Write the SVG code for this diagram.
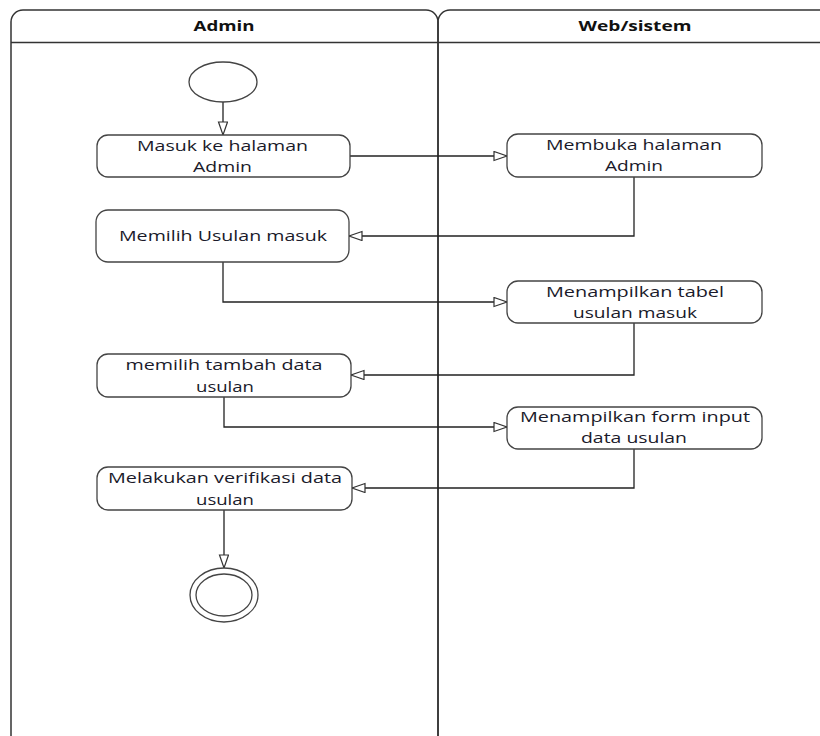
<svg xmlns="http://www.w3.org/2000/svg" width="820" height="736" viewBox="0 0 820 736">
<style>
.lane{fill:none;stroke:#333;stroke-width:1.5}
.box{fill:#fff;stroke:#444;stroke-width:1.3}
.t{font-family:"Open Sans","Noto Sans",sans-serif;font-size:15px;fill:#1a1a2a;text-anchor:middle}
.h{font-family:"Open Sans","Noto Sans",sans-serif;font-size:15px;font-weight:bold;fill:#111;text-anchor:middle}
.c{fill:none;stroke:#222;stroke-width:1.3}
</style>
<defs>
<marker id="arr" markerUnits="userSpaceOnUse" markerWidth="16" markerHeight="12" refX="14" refY="5" orient="auto">
<path d="M1,0.5 L14,5 L1,9.5 z" fill="#fff" stroke="#333" stroke-width="1.2"/>
</marker>
</defs>
<rect width="820" height="736" fill="#fff"/>
<g id="lane-admin">
<rect class="lane" x="11" y="10" width="427" height="740" rx="12"/>
<text class="h" x="224" y="31" textLength="61" lengthAdjust="spacingAndGlyphs">Admin</text>
</g>
<g id="lane-web">
<rect class="lane" x="438" y="10" width="400" height="740" rx="12"/>
<text class="h" x="635" y="31" textLength="113" lengthAdjust="spacingAndGlyphs">Web/sistem</text>
</g>
<line class="lane" x1="11" y1="42.5" x2="820" y2="42.5"/>
<g id="connectors">
<path class="c" d="M223,102 V135" marker-end="url(#arr)"/>
<path class="c" d="M350,156 H507" marker-end="url(#arr)"/>
<path class="c" d="M634,177 V236 H349" marker-end="url(#arr)"/>
<path class="c" d="M223,262 V302 H507" marker-end="url(#arr)"/>
<path class="c" d="M634,323 V375 H351" marker-end="url(#arr)"/>
<path class="c" d="M224,397 V427 H507" marker-end="url(#arr)"/>
<path class="c" d="M634,449 V488 H352" marker-end="url(#arr)"/>
<path class="c" d="M224,510 V568" marker-end="url(#arr)"/>
</g>
<g id="start">
<ellipse class="box" cx="223" cy="82" rx="34" ry="20"/>
</g>
<g id="n1">
<rect class="box" x="97" y="135" width="253" height="42" rx="11"/>
<text class="t" x="222.5" y="150.5" textLength="171" lengthAdjust="spacingAndGlyphs">Masuk ke halaman</text>
<text class="t" x="222.5" y="171.5" textLength="59" lengthAdjust="spacingAndGlyphs">Admin</text>
</g>
<g id="n2">
<rect class="box" x="507" y="134" width="255" height="43" rx="11"/>
<text class="t" x="634" y="150" textLength="176" lengthAdjust="spacingAndGlyphs">Membuka halaman</text>
<text class="t" x="634" y="171" textLength="58" lengthAdjust="spacingAndGlyphs">Admin</text>
</g>
<g id="n3">
<rect class="box" x="96" y="210" width="253" height="52" rx="12"/>
<text class="t" x="223" y="241" textLength="208" lengthAdjust="spacingAndGlyphs">Memilih Usulan masuk</text>
</g>
<g id="n4">
<rect class="box" x="507" y="281" width="255" height="42" rx="11"/>
<text class="t" x="635" y="296.5" textLength="178" lengthAdjust="spacingAndGlyphs">Menampilkan tabel</text>
<text class="t" x="635" y="317.5" textLength="124" lengthAdjust="spacingAndGlyphs">usulan masuk</text>
</g>
<g id="n5">
<rect class="box" x="97" y="354" width="254" height="43" rx="11"/>
<text class="t" x="224" y="369.5" textLength="197" lengthAdjust="spacingAndGlyphs">memilih tambah data</text>
<text class="t" x="225" y="391.5" textLength="58" lengthAdjust="spacingAndGlyphs">usulan</text>
</g>
<g id="n6">
<rect class="box" x="507" y="407" width="255" height="42" rx="11"/>
<text class="t" x="635" y="421.5" textLength="230" lengthAdjust="spacingAndGlyphs">Menampilkan form input</text>
<text class="t" x="634" y="443" textLength="106" lengthAdjust="spacingAndGlyphs">data usulan</text>
</g>
<g id="n7">
<rect class="box" x="97" y="467" width="255" height="43" rx="11"/>
<text class="t" x="225" y="482.5" textLength="234" lengthAdjust="spacingAndGlyphs">Melakukan verifikasi data</text>
<text class="t" x="225" y="504.5" textLength="58" lengthAdjust="spacingAndGlyphs">usulan</text>
</g>
<g id="end">
<ellipse class="box" cx="224" cy="595" rx="34" ry="27"/>
<ellipse class="box" cx="224" cy="595" rx="28" ry="21"/>
</g>
</svg>
